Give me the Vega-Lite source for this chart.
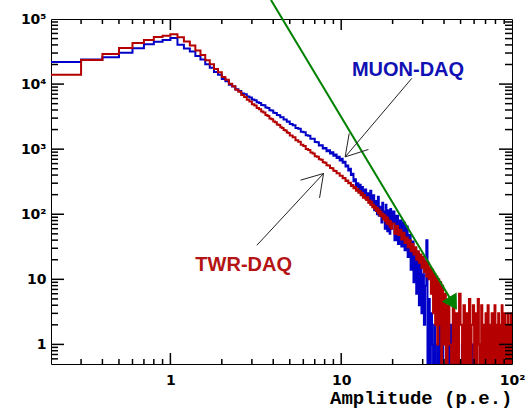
{
  "$schema": "https://vega.github.io/schema/vega-lite/v6.json",
  "width": 461,
  "height": 345,
  "autosize": {"type": "none"},
  "padding": {"left": 51, "top": 19, "right": 15, "bottom": 46},
  "background": "white",
  "datasets": {
    "hist": [
      {"x":0.2,"b":21800,"r":13900},{"x":0.3,"b":23800,"r":23400},{"x":0.4,"b":25800,"r":28900},{"x":0.5,"b":30300,"r":35800},
      {"x":0.6,"b":35400,"r":42800},{"x":0.7,"b":40800,"r":47500},{"x":0.8,"b":44800,"r":52800},{"x":0.9,"b":47500,"r":55300},
      {"x":1.0,"b":51000,"r":58200},{"x":1.1,"b":40200,"r":52300},{"x":1.2,"b":35100,"r":45100},{"x":1.3,"b":31700,"r":39000},
      {"x":1.4,"b":27100,"r":32700},{"x":1.5,"b":23800,"r":28100},{"x":1.6,"b":20100,"r":23300},{"x":1.7,"b":17800,"r":20100},
      {"x":1.8,"b":15300,"r":17000},{"x":1.9,"b":13900,"r":15200},{"x":2.0,"b":12000,"r":12900},{"x":2.1,"b":11100,"r":11700},
      {"x":2.2,"b":9800,"r":10100},{"x":2.3,"b":9150,"r":9250},{"x":2.4,"b":8300,"r":8150},{"x":2.5,"b":7850,"r":7600},
      {"x":2.6,"b":7180,"r":6780},{"x":2.7,"b":6950,"r":6330},{"x":2.8,"b":6420,"r":5720},{"x":2.9,"b":6200,"r":5380},
      {"x":3.0,"b":5800,"r":4900},{"x":3.1,"b":5650,"r":4700},{"x":3.2,"b":5250,"r":4290},{"x":3.3,"b":5130,"r":4110},
      {"x":3.4,"b":4790,"r":3780},{"x":3.5,"b":4710,"r":3650},{"x":3.6,"b":4360,"r":3340},{"x":3.7,"b":4300,"r":3230},
      {"x":3.8,"b":3970,"r":2970},{"x":3.9,"b":3930,"r":2880},{"x":4.0,"b":3640,"r":2660},{"x":4.1,"b":3600,"r":2590},
      {"x":4.2,"b":3350,"r":2400},{"x":4.3,"b":3330,"r":2350},{"x":4.4,"b":3090,"r":2170},{"x":4.5,"b":3080,"r":2120},
      {"x":4.6,"b":2860,"r":1970},{"x":4.7,"b":2850,"r":1940},{"x":4.8,"b":2640,"r":1800},{"x":4.9,"b":2660,"r":1770},
      {"x":5.0,"b":2440,"r":1620},{"x":5.2,"b":2340,"r":1520},{"x":5.4,"b":2120,"r":1370},{"x":5.6,"b":2060,"r":1300},
      {"x":5.8,"b":1850,"r":1170},{"x":6.0,"b":1820,"r":1120},{"x":6.2,"b":1630,"r":1010},{"x":6.4,"b":1610,"r":970},
      {"x":6.6,"b":1450,"r":885},{"x":6.8,"b":1440,"r":860},{"x":7.0,"b":1290,"r":780},{"x":7.2,"b":1280,"r":765},
      {"x":7.4,"b":1140,"r":700},{"x":7.6,"b":1150,"r":688},{"x":7.8,"b":1020,"r":628},{"x":8.0,"b":1040,"r":618},
      {"x":8.2,"b":930,"r":566},{"x":8.4,"b":965,"r":560},{"x":8.6,"b":860,"r":512},{"x":8.8,"b":900,"r":510},
      {"x":9.0,"b":790,"r":466},{"x":9.2,"b":830,"r":462},{"x":9.4,"b":730,"r":428},{"x":9.6,"b":765,"r":425},
      {"x":9.8,"b":670,"r":392},{"x":10.0,"b":715,"r":392},{"x":10.2,"b":620,"r":358},{"x":10.4,"b":640,"r":362},
      {"x":10.6,"b":540,"r":325},{"x":10.8,"b":560,"r":330},{"x":11.0,"b":470,"r":300},{"x":11.2,"b":500,"r":305},
      {"x":11.4,"b":400,"r":272},{"x":11.6,"b":420,"r":281},{"x":11.8,"b":320,"r":250},{"x":12.0,"b":345,"r":262},
      {"x":12.2,"b":270,"r":230},{"x":12.4,"b":300,"r":244},{"x":12.6,"b":240,"r":214},{"x":12.8,"b":285,"r":228},
      {"x":13.0,"b":215,"r":196},{"x":13.2,"b":262,"r":212},{"x":13.4,"b":230,"r":180},{"x":13.6,"b":190,"r":198},
      {"x":13.8,"b":240,"r":175},{"x":14.0,"b":175,"r":165},{"x":14.2,"b":210,"r":182},{"x":14.4,"b":200,"r":150},
      {"x":14.6,"b":150,"r":162},{"x":14.8,"b":230,"r":140},{"x":15.0,"b":140,"r":155},{"x":15.2,"b":175,"r":128},
      {"x":15.4,"b":195,"r":140},{"x":15.6,"b":115,"r":122},{"x":15.8,"b":160,"r":132},{"x":16.0,"b":150,"r":112},
      {"x":16.2,"b":100,"r":125},{"x":16.4,"b":185,"r":104},{"x":16.6,"b":95,"r":118},{"x":16.8,"b":130,"r":96},
      {"x":17.0,"b":120,"r":110},{"x":17.2,"b":75,"r":92},{"x":17.4,"b":150,"r":102},{"x":17.6,"b":85,"r":84},
      {"x":17.8,"b":110,"r":98},{"x":18.0,"b":60,"r":78},{"x":18.2,"b":140,"r":92},{"x":18.4,"b":90,"r":72},
      {"x":18.6,"b":55,"r":88},{"x":18.8,"b":115,"r":70},{"x":19.0,"b":80,"r":80},{"x":19.2,"b":50,"r":64},
      {"x":19.4,"b":120,"r":78},{"x":19.6,"b":60,"r":60},{"x":19.8,"b":75,"r":72},
      {"x":20.0,"b":110,"r":72},{"x":20.5,"b":40,"r":50},{"x":21.0,"b":95,"r":66},{"x":21.5,"b":35,"r":48},
      {"x":22.0,"b":80,"r":58},{"x":22.5,"b":32,"r":41},{"x":23.0,"b":75,"r":52},{"x":23.5,"b":28,"r":36},
      {"x":24.0,"b":65,"r":44},{"x":24.5,"b":22,"r":31},{"x":25.0,"b":48,"r":40},{"x":25.5,"b":14,"r":27},
      {"x":26.0,"b":38,"r":35},{"x":26.5,"b":9,"r":24},{"x":27.0,"b":30,"r":31},{"x":27.5,"b":6,"r":20},
      {"x":28.0,"b":25,"r":27},{"x":28.5,"b":4,"r":18},{"x":29.0,"b":18,"r":24},{"x":29.5,"b":3,"r":15},
      {"x":30.0,"b":12,"r":22},{"x":30.5,"b":2,"r":13},{"x":31.0,"b":8,"r":19},{"x":31.5,"b":40,"r":11},
      {"x":32.0,"b":0.1,"r":18},{"x":32.5,"b":5,"r":10},{"x":33.0,"b":0.1,"r":15},{"x":33.5,"b":3,"r":6},
      {"x":34.0,"b":1,"r":14},{"x":34.5,"b":0.1,"r":3},{"x":35.0,"b":2,"r":12},{"x":35.5,"b":0.1,"r":2},
      {"x":36.0,"b":0.1,"r":11},{"x":36.5,"b":1,"r":1},{"x":37.0,"b":0.1,"r":10},{"x":37.5,"b":2,"r":2},
      {"x":38.0,"b":0.1,"r":9},{"x":38.5,"b":0.1,"r":0.1},{"x":39.0,"b":1,"r":8},{"x":39.5,"b":0.1,"r":1},
      {"x":40,"b":0.1,"r":6},{"x":41,"b":1,"r":0.1},{"x":42,"b":0.1,"r":4},{"x":43,"b":2,"r":1},
      {"x":44,"b":0.1,"r":0.1},{"x":45,"b":0.1,"r":5},{"x":46,"b":1,"r":0.1},{"x":47,"b":0.1,"r":3},
      {"x":48,"b":1,"r":0.1},{"x":49,"b":0.1,"r":6},{"x":50,"b":0.1,"r":2},{"x":51,"b":1,"r":0.1},
      {"x":52,"b":0.1,"r":4},{"x":53,"b":0.1,"r":0.1},{"x":54,"b":1,"r":3},{"x":55,"b":0.1,"r":0.1},
      {"x":56,"b":0.1,"r":5},{"x":57,"b":0.1,"r":0.1},{"x":58,"b":1,"r":2},{"x":59,"b":0.1,"r":4},
      {"x":60,"b":0.1,"r":0.1},{"x":61,"b":0.1,"r":3},{"x":62,"b":0.1,"r":0.1},{"x":63,"b":0.1,"r":5},
      {"x":64,"b":0.1,"r":1},{"x":65,"b":1,"r":0.1},{"x":66,"b":0.1,"r":4},{"x":67,"b":0.1,"r":0.1},
      {"x":68,"b":0.1,"r":2},{"x":69,"b":0.1,"r":0.1},{"x":70,"b":0.1,"r":3},{"x":71,"b":0.1,"r":0.1},
      {"x":72,"b":0.1,"r":4},{"x":73,"b":0.1,"r":0.1},{"x":74,"b":0.1,"r":2},{"x":75,"b":0.1,"r":0.1},
      {"x":76,"b":0.1,"r":3},{"x":77,"b":0.1,"r":1},{"x":78,"b":0.1,"r":0.1},{"x":79,"b":0.1,"r":4},
      {"x":80,"b":0.1,"r":0.1},{"x":81,"b":0.1,"r":2},{"x":82,"b":0.1,"r":0.1},{"x":83,"b":0.1,"r":3},
      {"x":84,"b":0.1,"r":0.1},{"x":85,"b":0.1,"r":2},{"x":86,"b":0.1,"r":0.1},{"x":87,"b":0.1,"r":4},
      {"x":88,"b":0.1,"r":0.1},{"x":89,"b":0.1,"r":1},{"x":90,"b":0.1,"r":3},{"x":91,"b":0.1,"r":0.1},
      {"x":92,"b":0.1,"r":2},{"x":93,"b":0.1,"r":0.1},{"x":94,"b":0.1,"r":3},{"x":95,"b":0.1,"r":0.1},
      {"x":96,"b":0.1,"r":2},{"x":97,"b":0.1,"r":0.1},{"x":98,"b":0.1,"r":3},{"x":99,"b":0.1,"r":0.1},
      {"x":100,"b":0.1,"r":0.1}
    ],
    "xmaj": [{"v":1},{"v":10}],
    "xmin": [{"v":0.3},{"v":0.4},{"v":0.5},{"v":0.6},{"v":0.7},{"v":0.8},{"v":0.9},{"v":2},{"v":3},{"v":4},{"v":5},{"v":6},{"v":7},{"v":8},{"v":9},{"v":20},{"v":30},{"v":40},{"v":50},{"v":60},{"v":70},{"v":80},{"v":90}],
    "ymaj": [{"v":1},{"v":10},{"v":100},{"v":1000},{"v":10000}],
    "ymin": [{"v":0.6},{"v":0.7},{"v":0.8},{"v":0.9},{"v":2},{"v":3},{"v":4},{"v":5},{"v":6},{"v":7},{"v":8},{"v":9},
             {"v":20},{"v":30},{"v":40},{"v":50},{"v":60},{"v":70},{"v":80},{"v":90},
             {"v":200},{"v":300},{"v":400},{"v":500},{"v":600},{"v":700},{"v":800},{"v":900},
             {"v":2000},{"v":3000},{"v":4000},{"v":5000},{"v":6000},{"v":7000},{"v":8000},{"v":9000},
             {"v":20000},{"v":30000},{"v":40000},{"v":50000},{"v":60000},{"v":70000},{"v":80000},{"v":90000}],
    "green": [{"gx": 3.88, "gy": 196000}, {"gx": 45.2, "gy": 4.27}],
    "head": [{"gx": 45.2, "gy": 4.27}],
    "arrows": [
      {"x1": 25.9, "y1": 12240, "x2": 10.55, "y2": 761},
      {"x1": 10.55, "y1": 761, "x2": 11.14, "y2": 1744},
      {"x1": 10.55, "y1": 761, "x2": 14.44, "y2": 989},
      {"x1": 3.21, "y1": 33.4, "x2": 7.88, "y2": 423},
      {"x1": 7.88, "y1": 423, "x2": 5.78, "y2": 334},
      {"x1": 7.88, "y1": 423, "x2": 7.47, "y2": 178}
    ]
  },
  "layer": [
    {
      "data": {"name": "hist"},
      "mark": {"type": "line", "interpolate": "step-after", "color": "#0000c8", "strokeWidth": 2, "clip": true},
      "encoding": {
        "x": {"field": "x", "type": "quantitative", "scale": {"type": "log", "domain": [0.2, 100], "nice": false}, "axis": null},
        "y": {"field": "b", "type": "quantitative", "scale": {"type": "log", "domain": [0.5, 100000], "nice": false}, "axis": null}
      }
    },
    {
      "data": {"name": "hist"},
      "mark": {"type": "line", "interpolate": "step-after", "color": "#b40000", "strokeWidth": 2, "clip": true},
      "encoding": {
        "x": {"field": "x", "type": "quantitative", "scale": {"type": "log", "domain": [0.2, 100], "nice": false}, "axis": null},
        "y": {"field": "r", "type": "quantitative", "scale": {"type": "log", "domain": [0.5, 100000], "nice": false}, "axis": null}
      }
    },
    {
      "data": {"name": "green"},
      "mark": {"type": "line", "color": "#008000", "strokeWidth": 2, "clip": false},
      "encoding": {
        "x": {"field": "gx", "type": "quantitative", "scale": {"type": "log", "domain": [0.2, 100], "nice": false}, "axis": null},
        "y": {"field": "gy", "type": "quantitative", "scale": {"type": "log", "domain": [0.5, 100000], "nice": false}, "axis": null}
      }
    },
    {
      "data": {"name": "head"},
      "mark": {"type": "point", "shape": "triangle-down", "angle": -31, "size": 300, "filled": true, "color": "#008000", "opacity": 1, "clip": false},
      "encoding": {
        "x": {"field": "gx", "type": "quantitative", "scale": {"type": "log", "domain": [0.2, 100], "nice": false}, "axis": null},
        "y": {"field": "gy", "type": "quantitative", "scale": {"type": "log", "domain": [0.5, 100000], "nice": false}, "axis": null}
      }
    },
    {
      "data": {"name": "arrows"},
      "mark": {"type": "rule", "color": "#222222", "strokeWidth": 1},
      "encoding": {
        "x": {"field": "x1", "type": "quantitative", "scale": {"type": "log", "domain": [0.2, 100], "nice": false},
              "axis": {"orient": "bottom", "values": [1, 10, 100], "ticks": false,
                       "labelExpr": "datum.value == 1 ? '1' : datum.value == 10 ? '10' : '10²'",
                       "labelFont": "DejaVu Sans", "labelFontWeight": "bold", "labelFontSize": 14, "labelPadding": 9,
                       "title": "Amplitude (p.e.)", "titleFont": "Liberation Mono", "titleFontWeight": "bold", "titleFontSize": 19,
                       "titleAnchor": "end", "titleAlign": "right", "titleBaseline": "alphabetic", "titleX": 461, "titleY": 39, "titleColor": "black"}},
        "y": {"field": "y1", "type": "quantitative", "scale": {"type": "log", "domain": [0.5, 100000], "nice": false},
              "axis": {"orient": "left", "values": [1, 10, 100, 1000, 10000, 100000], "ticks": false,
                       "labelExpr": "datum.value == 1 ? '1' : datum.value == 10 ? '10' : datum.value == 100 ? '10²' : datum.value == 1000 ? '10³' : datum.value == 10000 ? '10⁴' : '10⁵'",
                       "labelFont": "DejaVu Sans", "labelFontWeight": "bold", "labelFontSize": 14, "labelPadding": 5, "title": null}},
        "x2": {"field": "x2"},
        "y2": {"field": "y2"}
      }
    },
    {
      "data": {"name": "xmaj"},
      "transform": [{"calculate": "0.5", "as": "t1"}, {"calculate": "0.738", "as": "t2"}],
      "mark": {"type": "rule", "color": "#000000", "strokeWidth": 1.5},
      "encoding": {
        "x": {"field": "v", "type": "quantitative", "scale": {"type": "log", "domain": [0.2, 100], "nice": false}, "axis": null},
        "y": {"field": "t1", "type": "quantitative", "scale": {"type": "log", "domain": [0.5, 100000], "nice": false}, "axis": null},
        "y2": {"field": "t2"}
      }
    },
    {
      "data": {"name": "xmin"},
      "transform": [{"calculate": "0.5", "as": "t1"}, {"calculate": "0.597", "as": "t2"}],
      "mark": {"type": "rule", "color": "#000000", "strokeWidth": 1.5},
      "encoding": {
        "x": {"field": "v", "type": "quantitative", "scale": {"type": "log", "domain": [0.2, 100], "nice": false}, "axis": null},
        "y": {"field": "t1", "type": "quantitative", "scale": {"type": "log", "domain": [0.5, 100000], "nice": false}, "axis": null},
        "y2": {"field": "t2"}
      }
    },
    {
      "data": {"name": "xmaj"},
      "transform": [{"calculate": "100000", "as": "t1"}, {"calculate": "67730", "as": "t2"}],
      "mark": {"type": "rule", "color": "#000000", "strokeWidth": 1.5},
      "encoding": {
        "x": {"field": "v", "type": "quantitative", "scale": {"type": "log", "domain": [0.2, 100], "nice": false}, "axis": null},
        "y": {"field": "t1", "type": "quantitative", "scale": {"type": "log", "domain": [0.5, 100000], "nice": false}, "axis": null},
        "y2": {"field": "t2"}
      }
    },
    {
      "data": {"name": "xmin"},
      "transform": [{"calculate": "100000", "as": "t1"}, {"calculate": "83770", "as": "t2"}],
      "mark": {"type": "rule", "color": "#000000", "strokeWidth": 1.5},
      "encoding": {
        "x": {"field": "v", "type": "quantitative", "scale": {"type": "log", "domain": [0.2, 100], "nice": false}, "axis": null},
        "y": {"field": "t1", "type": "quantitative", "scale": {"type": "log", "domain": [0.5, 100000], "nice": false}, "axis": null},
        "y2": {"field": "t2"}
      }
    },
    {
      "data": {"name": "ymaj"},
      "transform": [{"calculate": "0.2", "as": "t1"}, {"calculate": "0.2383", "as": "t2"}],
      "mark": {"type": "rule", "color": "#000000", "strokeWidth": 1.5},
      "encoding": {
        "y": {"field": "v", "type": "quantitative", "scale": {"type": "log", "domain": [0.5, 100000], "nice": false}, "axis": null},
        "x": {"field": "t1", "type": "quantitative", "scale": {"type": "log", "domain": [0.2, 100], "nice": false}, "axis": null},
        "x2": {"field": "t2"}
      }
    },
    {
      "data": {"name": "ymin"},
      "transform": [{"calculate": "0.2", "as": "t1"}, {"calculate": "0.2198", "as": "t2"}],
      "mark": {"type": "rule", "color": "#000000", "strokeWidth": 1.5},
      "encoding": {
        "y": {"field": "v", "type": "quantitative", "scale": {"type": "log", "domain": [0.5, 100000], "nice": false}, "axis": null},
        "x": {"field": "t1", "type": "quantitative", "scale": {"type": "log", "domain": [0.2, 100], "nice": false}, "axis": null},
        "x2": {"field": "t2"}
      }
    },
    {
      "data": {"name": "ymaj"},
      "transform": [{"calculate": "100", "as": "t1"}, {"calculate": "83.93", "as": "t2"}],
      "mark": {"type": "rule", "color": "#000000", "strokeWidth": 1.5},
      "encoding": {
        "y": {"field": "v", "type": "quantitative", "scale": {"type": "log", "domain": [0.5, 100000], "nice": false}, "axis": null},
        "x": {"field": "t1", "type": "quantitative", "scale": {"type": "log", "domain": [0.2, 100], "nice": false}, "axis": null},
        "x2": {"field": "t2"}
      }
    },
    {
      "data": {"name": "ymin"},
      "transform": [{"calculate": "100", "as": "t1"}, {"calculate": "91.0", "as": "t2"}],
      "mark": {"type": "rule", "color": "#000000", "strokeWidth": 1.5},
      "encoding": {
        "y": {"field": "v", "type": "quantitative", "scale": {"type": "log", "domain": [0.5, 100000], "nice": false}, "axis": null},
        "x": {"field": "t1", "type": "quantitative", "scale": {"type": "log", "domain": [0.2, 100], "nice": false}, "axis": null},
        "x2": {"field": "t2"}
      }
    },
    {
      "data": {"values": [{"lx": 11.55, "ly": 13280, "t": "MUON-DAQ"}]},
      "mark": {"type": "text", "align": "left", "baseline": "alphabetic", "font": "Liberation Sans", "fontWeight": "bold", "fontSize": 20, "color": "#1010b4"},
      "encoding": {
        "x": {"field": "lx", "type": "quantitative", "scale": {"type": "log", "domain": [0.2, 100], "nice": false}, "axis": null},
        "y": {"field": "ly", "type": "quantitative", "scale": {"type": "log", "domain": [0.5, 100000], "nice": false}, "axis": null},
        "text": {"field": "t"}
      }
    },
    {
      "data": {"values": [{"lx": 1.40, "ly": 13.4, "t": "TWR-DAQ"}]},
      "mark": {"type": "text", "align": "left", "baseline": "alphabetic", "font": "Liberation Sans", "fontWeight": "bold", "fontSize": 20, "color": "#b41414"},
      "encoding": {
        "x": {"field": "lx", "type": "quantitative", "scale": {"type": "log", "domain": [0.2, 100], "nice": false}, "axis": null},
        "y": {"field": "ly", "type": "quantitative", "scale": {"type": "log", "domain": [0.5, 100000], "nice": false}, "axis": null},
        "text": {"field": "t"}
      }
    }
  ],
  "resolve": {"axis": {"x": "independent", "y": "independent"}},
  "config": {
    "view": {"stroke": "black", "strokeWidth": 1},
    "axis": {"grid": false, "domain": false, "labelFlush": false, "labelOverlap": false, "labelBound": false, "labelColor": "black"}
  }
}
